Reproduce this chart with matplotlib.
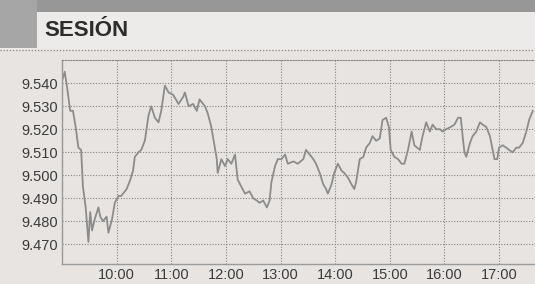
import matplotlib.pyplot as plt
from matplotlib.patches import Rectangle
from matplotlib.lines import Line2D

# minutes after 9:00 and index level (10 per row)
minutes = [0, 3, 6, 9, 12, 15, 18, 21, 23, 26,
           29, 31, 33, 36, 40, 42, 45, 49, 51, 55,
           58, 62, 65, 71, 75, 78, 80, 84, 87, 91,
           95, 98, 102, 106, 109, 113, 117, 122, 128, 133,
           135, 139, 144, 148, 151, 157, 160, 164, 167, 170,
           171, 175, 179, 182, 186, 190, 193, 197, 201, 206,
           210, 214, 217, 221, 225, 228, 230, 234, 237, 241,
           245, 248, 254, 259, 265, 268, 272, 276, 279, 283,
           287, 290, 292, 296, 299, 303, 307, 310, 314, 318,
           321, 323, 327, 331, 334, 338, 341, 345, 349, 352,
           356, 359, 361, 365, 369, 373, 376, 380, 384, 387,
           393, 396, 400, 404, 407, 411, 415, 418, 422, 427,
           431, 435, 438, 440, 442, 444, 448, 451, 455, 459,
           462, 466, 470, 473, 475, 478, 480, 484, 488, 491,
           495, 499, 502, 506, 510, 513, 517]
level = [9.541, 9.545, 9.537, 9.528, 9.528, 9.521, 9.512, 9.511, 9.495, 9.486,
         9.471, 9.484, 9.476, 9.481, 9.486, 9.482, 9.480, 9.482, 9.475, 9.481,
         9.488, 9.491, 9.491, 9.494, 9.498, 9.502, 9.508, 9.510, 9.511, 9.515,
         9.526, 9.530, 9.525, 9.523, 9.528, 9.539, 9.536, 9.535, 9.531, 9.534,
         9.536, 9.530, 9.531, 9.528, 9.533, 9.530, 9.527, 9.521, 9.514, 9.507,
         9.501, 9.507, 9.504, 9.507, 9.505, 9.509, 9.498, 9.495, 9.492, 9.493,
         9.490, 9.489, 9.488, 9.489, 9.486, 9.489, 9.497, 9.504, 9.507, 9.507,
         9.509, 9.505, 9.506, 9.505, 9.507, 9.511, 9.509, 9.507, 9.505, 9.501,
         9.496, 9.494, 9.492, 9.496, 9.501, 9.505, 9.502, 9.501, 9.499, 9.496,
         9.494, 9.497, 9.507, 9.508, 9.512, 9.514, 9.517, 9.515, 9.516, 9.524,
         9.525, 9.521, 9.511, 9.508, 9.507, 9.505, 9.505, 9.511, 9.519, 9.513,
         9.511, 9.517, 9.523, 9.519, 9.522, 9.520, 9.520, 9.519, 9.520, 9.521,
         9.522, 9.525, 9.525, 9.517, 9.510, 9.508, 9.514, 9.517, 9.519, 9.523,
         9.522, 9.521, 9.517, 9.511, 9.507, 9.507, 9.512, 9.513, 9.512, 9.511,
         9.510, 9.512, 9.512, 9.514, 9.519, 9.524, 9.528]

y_ticks = [9.470, 9.480, 9.490, 9.500, 9.510, 9.520, 9.530, 9.540]
y_labels = ['9.470', '9.480', '9.490', '9.500', '9.510', '9.520', '9.530', '9.540']
x_ticks = [60, 120, 180, 240, 300, 360, 420, 480]
x_labels = ['10:00', '11:00', '12:00', '13:00', '14:00', '15:00', '16:00', '17:00']

bg = '#e7e4e1'
grid_c = '#858585'

fig = plt.figure(figsize=(5.35, 2.84), dpi=100, facecolor=bg)

# title band
fig.patches.append(Rectangle((0, 0.823), 1, 0.177, transform=fig.transFigure,
                             facecolor='#ecebe9', edgecolor='none', zorder=0))
fig.patches.append(Rectangle((0, 0.958), 1, 0.042, transform=fig.transFigure,
                             facecolor='#979797', edgecolor='none', zorder=1))
fig.patches.append(Rectangle((0, 0.831), 0.069, 0.169, transform=fig.transFigure,
                             facecolor='#a6a6a6', edgecolor='none', zorder=1))
fig.lines.append(Line2D([0, 1], [0.824, 0.824], transform=fig.transFigure,
                        color=grid_c, lw=0.9, ls=(0, (1, 1.5))))
fig.text(0.082, 0.892, 'SESIÓN', fontsize=16, fontweight='heavy',
         family='Liberation Sans', color='#2c2c2c', va='center', ha='left')

ax = fig.add_axes([0.1159, 0.0704, 0.8841, 0.7183])
ax.set_facecolor(bg)
ax.plot(minutes, level, color='#8c8c8c', lw=1.3)

ax.set_xlim(0, 519.5)
ax.set_ylim(9.4614, 9.5501)
ax.set_yticks(y_ticks)
ax.set_yticklabels(y_labels)
ax.set_xticks(x_ticks)
ax.set_xticklabels(x_labels)
ax.tick_params(length=0, labelsize=10.5, labelcolor='#3c3c3c', pad=3)
for lab in ax.get_xticklabels() + ax.get_yticklabels():
    lab.set_family('Liberation Sans')

ax.grid(True, color=grid_c, lw=0.8, ls=(0, (1, 1.5)))
ax.spines['right'].set_visible(False)
ax.spines['top'].set_color(grid_c)
ax.spines['top'].set_linestyle((0, (1, 1.5)))
ax.spines['top'].set_linewidth(0.8)
for s in ['left', 'bottom']:
    ax.spines[s].set_color('#9a9a9a')
    ax.spines[s].set_linewidth(1.0)

fig.savefig('out.png', dpi=100, facecolor=bg)
